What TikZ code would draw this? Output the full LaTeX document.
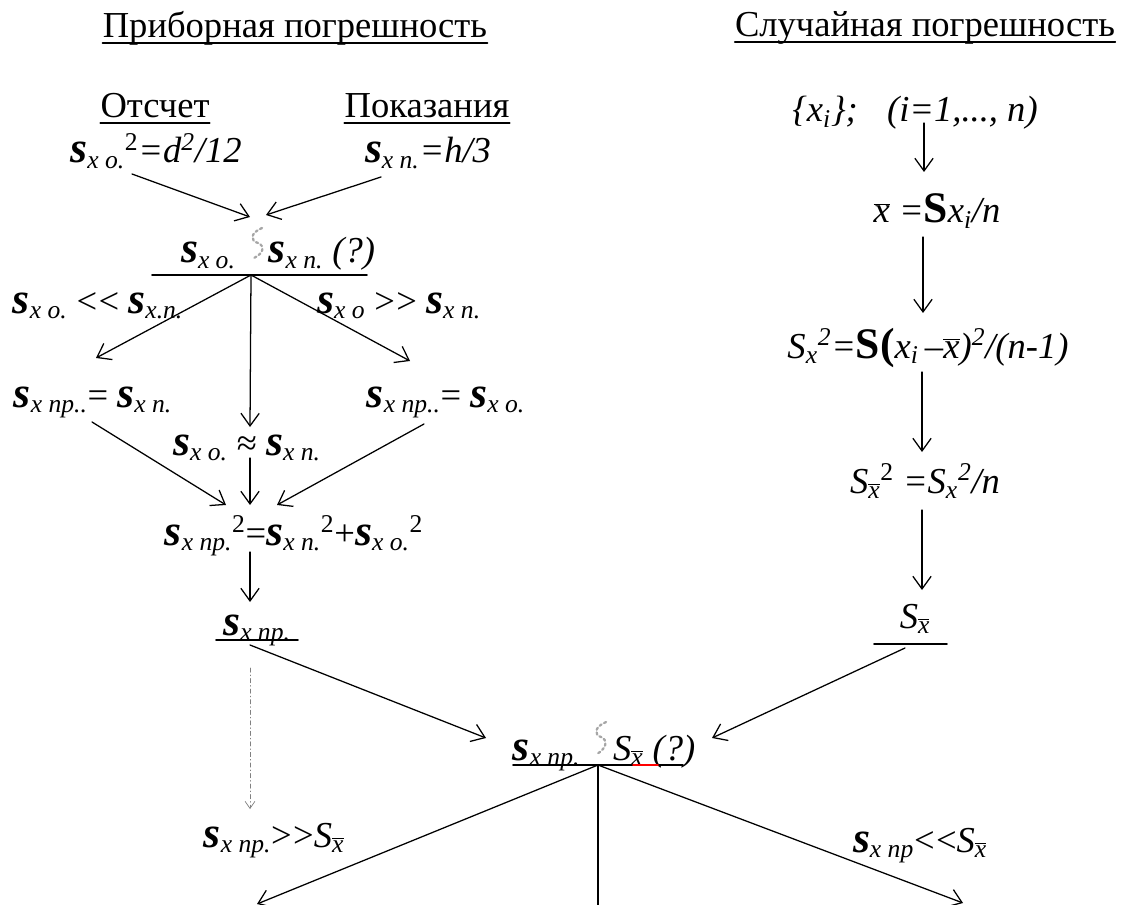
\documentclass[tikz,border=0pt]{standalone}
\usepackage{fontspec}
\setmainfont{Liberation Serif}
\usetikzlibrary{arrows.meta,calc}
\newcommand{\sgm}{{\fontsize{31}{32}\selectfont\bfseries\itshape s}}
\newcommand{\bsum}{{\fontsize{31}{32}\selectfont\bfseries S}}
\newcommand{\idx}[1]{\textsubscript{\itshape #1}}
\newcommand{\pw}{\textsuperscript{2}}
\newcommand{\xb}{$\overline{\mbox{\itshape x}}$}
\newcommand{\lss}{\textless\kern1pt\textless}
\newcommand{\gtt}{\textgreater\kern1pt\textgreater}
\begin{document}
\begin{tikzpicture}[x=0.025cm, y=-0.025cm, line cap=round, line join=round,
    lbl/.style={inner sep=0pt, anchor=base, font=\fontsize{26}{31}\selectfont},
    arr/.style={line width=0.9pt, -{Straight Barb[length=9pt,width=13pt]}},
    uln/.style={line width=1.3pt},
    ddash/.style={gray, line width=0.5pt, dash dot, -{Straight Barb[length=5pt,width=7pt]}},
    squig/.style={gray!70, line width=1.6pt, dotted}]
  \useasboundingbox (0,0) rectangle (1122,905);
  % headings
  \node[lbl] (pri) at (295,38) {Приборная погрешность};
  \node[lbl] (slu) at (925,37) {Случайная погрешность};
  \draw[uln] ($(pri.base west)+(0,5)$) -- ($(pri.base east)+(0,5)$);
  \draw[uln] ($(slu.base west)+(0,5)$) -- ($(slu.base east)+(0,5)$);
  % left branch
  \node[lbl] (ots) at (155,118) {Отсчет};
  \node[lbl] (pok) at (427,118) {Показания};
  \draw[uln] ($(ots.base west)+(0,5)$) -- ($(ots.base east)+(0,5)$);
  \draw[uln] ($(pok.base west)+(0,5)$) -- ($(pok.base east)+(0,5)$);
  \node[lbl] (so) at (156,163) {\sgm\idx{x o.}\pw\textit{=d\pw/12}};
  \node[lbl] (sn) at (428,163) {\sgm\idx{x n.}\textit{=h/3}};
  \node[lbl] (cmp1) at (278,263) {\sgm\idx{x o.}\hspace{0.9em}\sgm\idx{x n.} \textit{(?)}};
  \node[lbl] (lt) at (98,313) {\sgm\idx{x o.} \lss{} \sgm\idx{x.n.}};
  \node[lbl] (gt) at (399,313) {\sgm\idx{x o} \gtt{} \sgm\idx{x n.}};
  \node[lbl] (eqn) at (93,407) {\sgm\idx{x np..}= \sgm\idx{x n.}};
  \node[lbl] (eqo) at (446,407) {\sgm\idx{x np..}= \sgm\idx{x o.}};
  \node[lbl] (apx) at (247,455) {\sgm\idx{x o.} ≈ \sgm\idx{x n.}};
  \node[lbl] (sum) at (294,545) {\sgm\idx{x np.}\pw=\sgm\idx{x n.}\pw+\sgm\idx{x o.}\pw};
  \node[lbl] (snp) at (257,635) {\sgm\idx{x np.}};
  \node[lbl] (gg) at (274,847) {\sgm\idx{x np.}\gtt\textit{S}\textsubscript{\xb}};
  % right branch
  \node[lbl] (xi) at (915,122) {\textit{\{x\textsubscript{i}\};\hspace{0.8em}(i=1,..., n)}};
  \node[lbl] (mean) at (937,223) {\xb\textit{ =}\bsum\textit{x\textsubscript{i}/n}};
  \node[lbl] (var) at (928,358) {\textit{S\textsubscript{x}\pw=}\bsum{\fontsize{31}{32}\selectfont\bfseries(}\textit{x\textsubscript{i}\,–}\xb\textit{)\pw/(n-1)}};
  \node[lbl] (varm) at (925,493) {\textit{S}\textsubscript{\xb}\pw\ \textit{=S\textsubscript{x}\pw/n}};
  \node[lbl] (sm) at (915,628) {\textit{S}\textsubscript{\xb}};
  % comparison at the bottom
  \node[lbl] (cmp2) at (604,760) {\sgm\idx{x np.}\hspace{0.9em}\textit{S}\textsubscript{\xb} \textit{(?)}};
  \node[lbl] (ll) at (920,852) {\sgm\idx{x np}\lss\textit{S}\textsubscript{\xb}};
  % junctions under the underlined nodes
  \coordinate (j1) at ($(cmp1.base)+(-27,12)$);
  \coordinate (j2) at ($(snp.base)+(-7,5)$);
  \coordinate (j3) at ($(cmp2.base)+(-6,5)$);
  \coordinate (j4) at ($(sm.base)+(-5,16)$);
  \draw[uln] ($(j1)+(-99,0)$) -- ($(j1)+(116,0)$);
  \draw[uln] ($(j2)+(-34,0)$) -- ($(j2)+(48,0)$);
  \draw[uln] ($(j3)+(-85,0)$) -- ($(j3)+(85,0)$);
  \draw[red, line width=1.3pt] ($(j3)+(35,0)$) -- ($(j3)+(60,0)$);
  \draw[uln] ($(j4)+(-36,0)$) -- ($(j4)+(37,0)$);
  % broken glyphs
  \draw[squig] ($(cmp1.base)+(-16,-35)$) .. controls ($(cmp1.base)+(-28,-30)$) and ($(cmp1.base)+(-28,-22)$) .. ($(cmp1.base)+(-20,-20)$)
    .. controls ($(cmp1.base)+(-13,-17)$) and ($(cmp1.base)+(-14,-10)$) .. ($(cmp1.base)+(-24,-5)$);
  \draw[squig] ($(cmp2.base)+(2,-38)$) .. controls ($(cmp2.base)+(-10,-33)$) and ($(cmp2.base)+(-10,-25)$) .. ($(cmp2.base)+(-3,-23)$)
    .. controls ($(cmp2.base)+(4,-20)$) and ($(cmp2.base)+(3,-12)$) .. ($(cmp2.base)+(-7,-6)$);
  % left arrows
  \draw[arr] ($(so.base)+(-24,11)$) -- ($(cmp1.base)+(-28,-46)$);
  \draw[arr] ($(sn.base)+(-47,14)$) -- ($(cmp1.base)+(-12,-48)$);
  \draw[arr] (j1) -- ($(eqn.base)+(3,-49)$);
  \draw[arr] (j1) -- ($(eqo.base)+(-36,-46)$);
  \draw[arr] (j1) -- ($(apx.base)+(3,-28)$);
  \draw[arr] ($(eqn.base)+(-1,15)$) -- ($(sum.base)+(-68,-40)$);
  \draw[arr] ($(apx.base)+(3,3)$) -- ($(sum.base)+(-44,-40)$);
  \draw[arr] ($(eqo.base)+(-22,17)$) -- ($(sum.base)+(-17,-40)$);
  \draw[arr] ($(sum.base)+(-44,7)$) -- ($(snp.base)+(-7,-33)$);
  \draw[arr] ($(j2)+(0,5)$) -- ($(cmp2.base)+(-118,-22)$);
  \draw[ddash] ($(j2)+(0,28)$) -- ($(gg.base)+(-24,-38)$);
  % right arrows
  \draw[arr] ($(xi.base)+(9,1)$) -- ($(mean.base)+(-13,-51)$);
  \draw[arr] ($(mean.base)+(-14,14)$) -- ($(var.base)+(-5,-45)$);
  \draw[arr] ($(var.base)+(-6,14)$) -- ($(varm.base)+(-3,-41)$);
  \draw[arr] ($(varm.base)+(-3,17)$) -- ($(sm.base)+(7,-38)$);
  \draw[arr] ($(j4)+(-5,4)$) -- ($(cmp2.base)+(108,-22)$);
  % outgoing at the bottom
  \coordinate (outL) at (257,904);
  \coordinate (outR) at (963,903);
  \coordinate (outM) at (598,906);
  \draw[arr] (j3) -- (outL);
  \draw[arr] (j3) -- (outR);
  \draw[line width=0.9pt] (j3) -- (outM);
\end{tikzpicture}
\end{document}
